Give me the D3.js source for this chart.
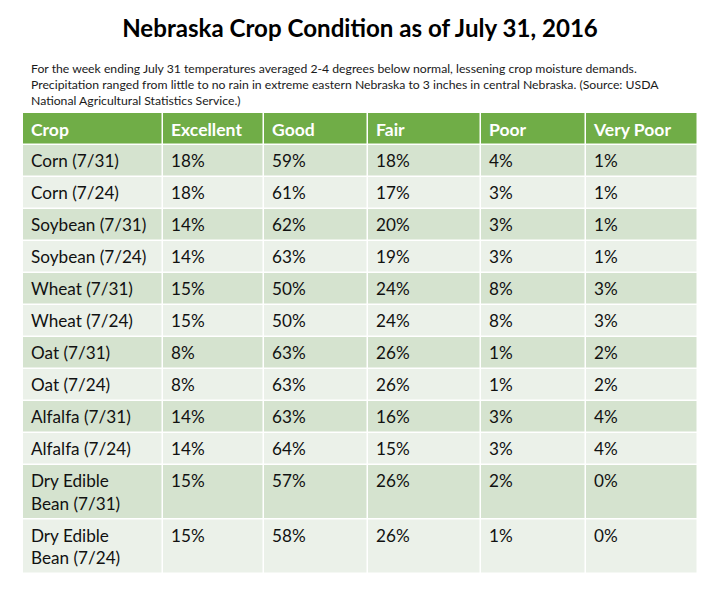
<!DOCTYPE html>
<html>
<head>
<meta charset="utf-8">
<script src="https://cdn.jsdelivr.net/npm/d3@7"></script>
<style>
  html, body { margin: 0; padding: 0; background: #ffffff; }
  svg { display: block; }
</style>
</head>
<body>
<div id="chart"></div>
<script>
// ---------- DATA ----------
const title = "Nebraska Crop Condition as of July 31, 2016";
const noteLines = [
  "For the week ending July 31 temperatures averaged 2-4 degrees below normal, lessening crop moisture demands.",
  "Precipitation ranged from little to no rain in extreme eastern Nebraska to 3 inches in central Nebraska. (Source: USDA",
  "National Agricultural Statistics Service.)"
];
const headers = ["Crop", "Excellent", "Good", "Fair", "Poor", "Very Poor"];
const crops = [
  "Corn (7/31)", "Corn (7/24)", "Soybean (7/31)", "Soybean (7/24)",
  "Wheat (7/31)", "Wheat (7/24)", "Oat (7/31)", "Oat (7/24)",
  "Alfalfa (7/31)", "Alfalfa (7/24)", "Dry Edible Bean (7/31)", "Dry Edible Bean (7/24)"
];
const excellent = [18, 18, 14, 14, 15, 15, 8, 8, 14, 14, 15, 15];
const good      = [59, 61, 62, 63, 50, 50, 63, 63, 63, 64, 57, 58];
const fair      = [18, 17, 20, 19, 24, 24, 26, 26, 16, 15, 26, 26];
const poor      = [4, 3, 3, 3, 8, 8, 1, 1, 3, 3, 2, 1];
const veryPoor  = [1, 1, 1, 1, 3, 3, 2, 2, 4, 4, 0, 0];

// ---------- LAYOUT ----------
const W = 720, H = 589;
const FONT = "Lato, 'Open Sans', sans-serif";
const colEdges = [23, 163, 264, 368, 481, 586, 698];
const tableTop = 113, headerH = 32, lineH = 22.5, rowPad = 9.5, gap = 1.5;
const green = "#70AD47", oddFill = "#D5E3CF", evenFill = "#EBF1E9";

const svg = d3.select("#chart").append("svg").attr("width", W).attr("height", H);

function fitSize(sel, target, base) {
  sel.style("font-size", base + "px");
  const w = sel.node().getComputedTextLength();
  sel.style("font-size", (base * target / w).toFixed(2) + "px");
  return base * target / w;
}

// Title
const t = svg.append("text").attr("x", W / 2).attr("y", 37).attr("text-anchor", "middle")
  .style("font-family", FONT).style("font-weight", 700).attr("fill", "#000").text(title);
fitSize(t, 476, 22);

// Note
const noteSizeProbe = svg.append("text").style("font-family", FONT).text(noteLines[0]);
const noteSize = fitSize(noteSizeProbe, 606, 13);
noteSizeProbe.remove();
svg.append("g").selectAll("text").data(noteLines).join("text")
  .attr("x", 31).attr("y", (d, i) => 73 + i * 16)
  .style("font-family", FONT).style("font-size", noteSize + "px").attr("fill", "#1a1a1a")
  .text(d => d);

// Font sizes for table
const hp = svg.append("text").style("font-family", FONT).style("font-weight", 700).text("Excellent");
const headSize = fitSize(hp, 71, 18); hp.remove();
const cp = svg.append("text").style("font-family", FONT).text("Corn (7/31)");
const cellSize = fitSize(cp, 88, 18); cp.remove();

// Column scale
const xScale = d3.scaleOrdinal().domain(headers).range(colEdges.slice(0, -1));
const colW = h => colEdges[headers.indexOf(h) + 1] - colEdges[headers.indexOf(h)];

// Wrap crop labels
const measurer = svg.append("text").style("font-family", FONT).style("font-size", cellSize + "px");
function wrap(label, maxW) {
  const words = label.split(" ");
  const lines = []; let cur = "";
  words.forEach(w => {
    const test = cur ? cur + " " + w : w;
    measurer.text(test);
    if (measurer.node().getComputedTextLength() > maxW && cur) { lines.push(cur); cur = w; }
    else cur = test;
  });
  lines.push(cur);
  return lines;
}
const rows = crops.map((c, i) => ({
  lines: wrap(c, 118),
  values: [excellent[i], good[i], fair[i], poor[i], veryPoor[i]]
}));
measurer.remove();

const rowHeights = rows.map(r => r.lines.length * lineH + rowPad);
const rowTops = [tableTop + headerH].concat(Array.from(d3.cumsum(rowHeights)).map(s => tableTop + headerH + s));

// Header
const hg = svg.append("g");
hg.selectAll("rect").data(headers).join("rect")
  .attr("x", d => xScale(d)).attr("y", tableTop)
  .attr("width", d => colW(d) - gap).attr("height", headerH - gap)
  .attr("fill", green);
hg.selectAll("text").data(headers).join("text")
  .attr("x", d => xScale(d) + 8).attr("y", tableTop + 23)
  .style("font-family", FONT).style("font-weight", 700).style("font-size", headSize + "px")
  .attr("fill", "#fff").text(d => d);

// Body
const rg = svg.append("g").selectAll("g").data(rows).join("g")
  .attr("transform", (d, i) => `translate(0,${rowTops[i]})`);
rows.forEach((r, i) => {
  const g = d3.select(rg.nodes()[i]);
  const cells = [r.lines].concat(r.values.map(v => [v + "%"]));
  g.selectAll("rect").data(headers).join("rect")
    .attr("x", d => xScale(d)).attr("y", 0)
    .attr("width", d => colW(d) - gap).attr("height", rowHeights[i] - gap)
    .attr("fill", i % 2 === 0 ? oddFill : evenFill);
  g.selectAll("text").data(headers).join("text")
    .attr("x", d => xScale(d) + 8).attr("y", 22)
    .style("font-family", FONT).style("font-size", cellSize + "px").attr("fill", "#111")
    .each(function(d, j) {
      d3.select(this).selectAll("tspan").data(cells[j]).join("tspan")
        .attr("x", xScale(d) + 8).attr("dy", (l, k) => k === 0 ? 0 : lineH).text(l => l);
    });
});
</script>
</body>
</html>
